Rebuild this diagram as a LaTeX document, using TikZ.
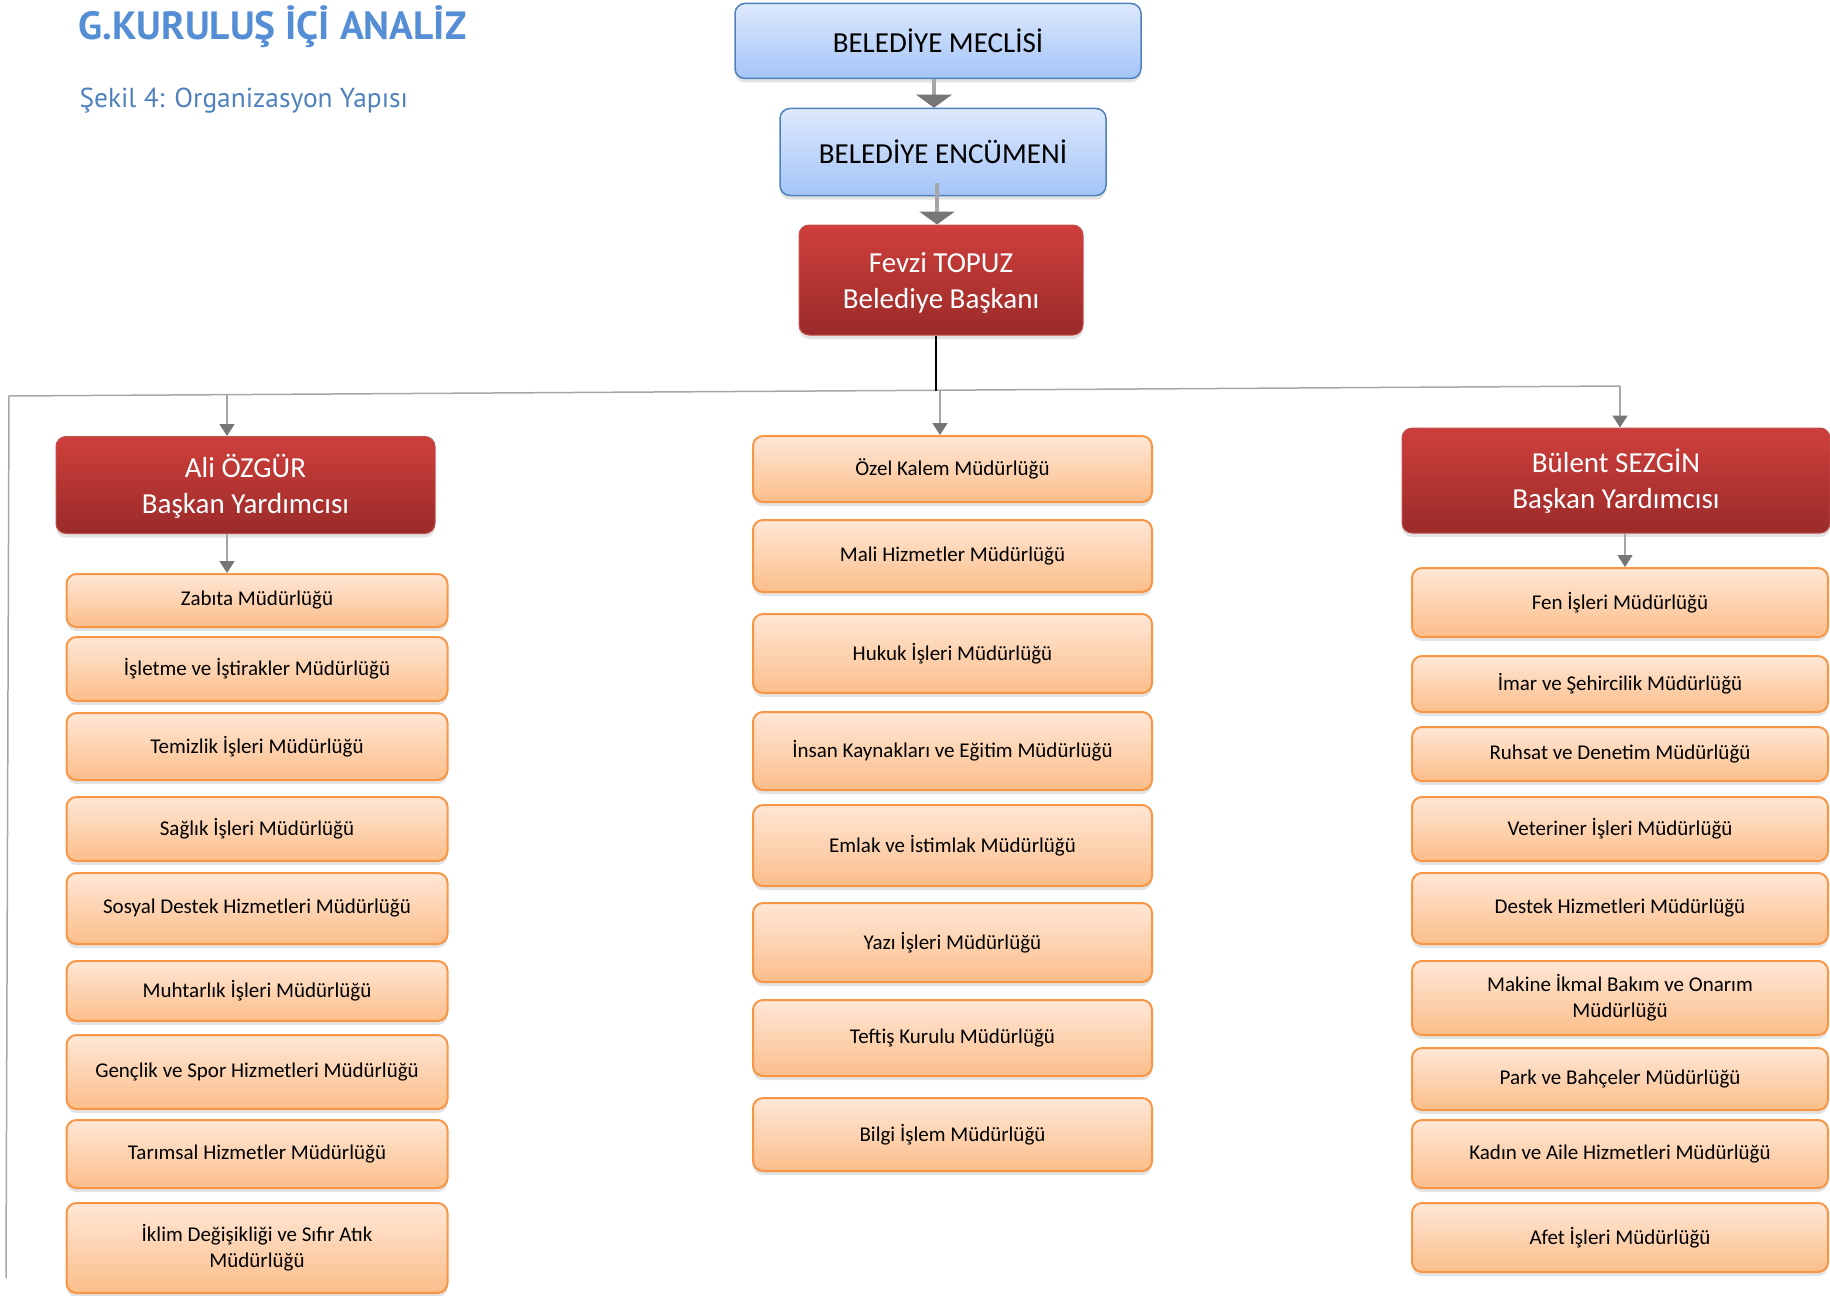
\documentclass[tikz,border=0pt]{standalone}
\usepackage{fontspec}
\setmainfont{Carlito}
\newfontfamily\headfont{PT Sans}
\usetikzlibrary{arrows.meta,shadows,calc}

\definecolor{hdblue}{RGB}{85,142,213}
\definecolor{subblue}{RGB}{79,129,189}
\definecolor{blutop}{RGB}{221,233,252}
\definecolor{blubot}{RGB}{164,196,248}
\definecolor{bluedge}{RGB}{79,129,189}
\definecolor{redtop}{RGB}{207,63,59}
\definecolor{redbot}{RGB}{154,43,42}
\definecolor{rededge}{RGB}{192,80,77}
\definecolor{ortop}{RGB}{255,231,214}
\definecolor{orbot}{RGB}{251,190,138}
\definecolor{oredge}{RGB}{247,150,70}
\definecolor{linegray}{RGB}{166,166,166}
\definecolor{tipgray}{RGB}{118,118,118}

\begin{document}
\begin{tikzpicture}[x=1pt,y=-1pt,
  box/.style={rounded corners=10pt,align=center,inner sep=3pt,
    drop shadow={shadow xshift=0pt,shadow yshift=-4pt,opacity=.22}},
  kurul/.style={box,draw=bluedge,line width=1.5pt,top color=blutop,bottom color=blubot,
    font=\fontsize{29}{35}\selectfont},
  baskan/.style={box,draw=rededge,line width=1pt,top color=redtop,bottom color=redbot,
    text=white,font=\fontsize{29}{36}\selectfont},
  mud/.style={box,draw=oredge,line width=2pt,top color=ortop,bottom color=orbot,
    font=\fontsize{21}{25.6}\selectfont},
  bigarr/.style={draw=linegray,line width=4pt,-{Triangle[width=35pt,length=13pt,color=tipgray]}},
  arr/.style={draw=linegray,line width=1.5pt,-{Triangle[width=15pt,length=12pt,color=tipgray]}},
  busline/.style={draw=linegray,line width=1.5pt}]
\useasboundingbox (0,0) rectangle (1830,1295);

\node[anchor=base west,text=hdblue,font=\headfont\bfseries\fontsize{39.4}{46}\selectfont] (ttl) at (75,40) {G.KURULUŞ İÇİ ANALİZ};
\node[anchor=base west,text=subblue,font=\headfont\fontsize{27.4}{33}\selectfont] (sub) at (76,108) {Şekil 4: Organizasyon Yapısı};

\node[kurul,minimum width=406,minimum height=75] (mec) at (938,41) {BELEDİYE MECLİSİ};
\node[kurul,minimum width=326,minimum height=87] (enc) at (943,152) {BELEDİYE ENCÜMENİ};
\node[baskan,minimum width=284,minimum height=110] (fev) at (941,280) {\strut Fevzi TOPUZ\\Belediye Başkanı};
\node[baskan,minimum width=379,minimum height=97] (ali) at (245.5,485) {\strut Ali ÖZGÜR\\Başkan Yardımcısı};
\node[baskan,minimum width=428,minimum height=105] (bul) at (1616,480.5) {\strut Bülent SEZGİN\\Başkan Yardımcısı};

\foreach \n/\t/\b/\txt in {1/574/627/Zabıta Müdürlüğü,2/637/701/İşletme ve İştirakler Müdürlüğü,
  3/713/780/Temizlik İşleri Müdürlüğü,4/797/861/Sağlık İşleri Müdürlüğü,
  5/873/944/Sosyal Destek Hizmetleri Müdürlüğü,6/961/1021/Muhtarlık İşleri Müdürlüğü,
  7/1035/1109/Gençlik ve Spor Hizmetleri Müdürlüğü,8/1120/1188/Tarımsal Hizmetler Müdürlüğü,
  9/1203/1293/{İklim Değişikliği ve Sıfır Atık\\Müdürlüğü}}
  \node[mud,minimum width=381,minimum height={\b-\t}] (L\n) at (257,{(\t+\b)/2}) {\txt};

\foreach \n/\t/\b/\txt in {1/436/502/Özel Kalem Müdürlüğü,2/520/592/Mali Hizmetler Müdürlüğü,
  3/614/693/Hukuk İşleri Müdürlüğü,4/712/790/İnsan Kaynakları ve Eğitim Müdürlüğü,
  5/805/886/Emlak ve İstimlak Müdürlüğü,6/903/982/Yazı İşleri Müdürlüğü,
  7/1000/1076/Teftiş Kurulu Müdürlüğü,8/1098/1171/Bilgi İşlem Müdürlüğü}
  \node[mud,minimum width=399,minimum height={\b-\t}] (M\n) at (952.5,{(\t+\b)/2}) {\txt};

\foreach \n/\t/\b/\txt in {1/568/637/Fen İşleri Müdürlüğü,2/656/712/İmar ve Şehircilik Müdürlüğü,
  3/727/781/Ruhsat ve Denetim Müdürlüğü,4/797/861/Veteriner İşleri Müdürlüğü,
  5/873/944/Destek Hizmetleri Müdürlüğü,6/961/1035/{Makine İkmal Bakım ve Onarım\\Müdürlüğü},
  7/1048/1110/Park ve Bahçeler Müdürlüğü,8/1120/1188/Kadın ve Aile Hizmetleri Müdürlüğü,
  9/1203/1272/Afet İşleri Müdürlüğü}
  \node[mud,minimum width=416,minimum height={\b-\t}] (R\n) at (1620,{(\t+\b)/2}) {\txt};

\coordinate (encdrop) at ([xshift=-6pt,yshift=13pt]enc.south);
\draw[bigarr] ([xshift=-4pt]mec.south) -- ([xshift=-4pt]mec.south |- enc.north);
\draw[bigarr] (encdrop) -- (encdrop |- fev.north);

\coordinate (busL) at (9,396);
\coordinate (busR) at (1620,386);
\coordinate (busE) at (6,1278);
\coordinate (tapL) at (227,395);
\coordinate (tapM) at (940,391);
\coordinate (stem) at ([xshift=-5pt]fev.south);
\draw[busline] (busE) -- (busL) -- (busR);
\draw[black,line width=1.5pt] (stem) -- (stem |- tapM);
\draw[arr] (tapL) -- (tapL |- ali.north);
\draw[arr] (tapM) -- (tapM |- M1.north);
\draw[arr] (busR) -- (busR |- bul.north);
\draw[arr] (tapL |- ali.south) -- (tapL |- L1.north);
\draw[arr] ([xshift=9pt]bul.south) -- ([xshift=9pt]bul.south |- R1.north);
\end{tikzpicture}
\end{document}
